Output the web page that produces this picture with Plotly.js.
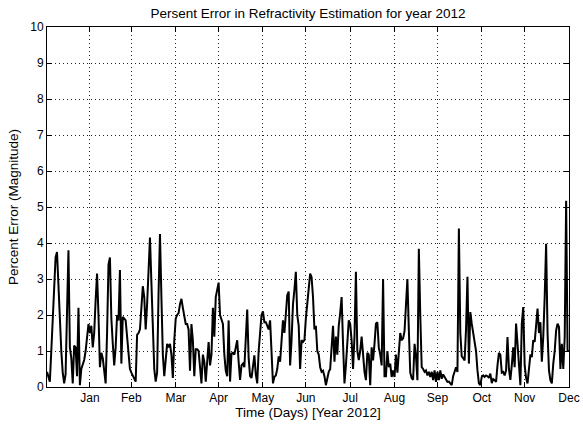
<!DOCTYPE html>
<html>
<head>
<meta charset="utf-8">
<script src="https://cdn.plot.ly/plotly-3.0.1.min.js"></script>
<style>
  html, body { margin: 0; padding: 0; background: #fff; }
  #chart { width: 583px; height: 425px; }
</style>
</head>
<body>
<div id="chart"></div>
<script>
// Daily percent error of the refractivity estimate, day-of-year 1..366 (2012)
const errJanFeb = [
  0.42, 0.3, 0.15, 1.0, 2.0, 3.0, 3.6, 3.75, 2.8, 1.8, 1.0, 0.4, 0.1, 0.35, 1.9, 3.8,
  1.1, 0.8, 0.1, 1.15, 1.1, 0.3, 2.2, 0.05, 0.5, 0.6, 0.75, 1.0, 1.3, 1.75, 1.5,
  1.7, 1.1, 1.5, 2.4, 3.15, 2.0, 0.55, 0.95, 0.8, 0.45, 0.1, 1.5, 3.4, 3.6, 1.9,
  1.2, 0.6, 1.1, 2.0, 1.85, 3.25, 0.65, 1.95, 1.9, 1.85, 1.4, 0.9, 0.5, 0.4
];
const errMarApr = [
  0.3, 0.25, 0.15, 1.45, 1.5, 1.6, 2.4, 2.8, 2.5, 1.6, 2.3, 3.1, 4.15, 2.9, 1.6, 0.5,
  0.15, 0.4, 2.6, 4.25, 2.5, 0.9, 0.3, 0.7, 1.2, 1.1, 1.2, 0.9, 0.25, 1.3,
  1.9, 2.0, 2.05, 2.3, 2.45, 2.2, 1.9, 1.75, 1.75, 1.6, 0.45, 1.75, 1.3, 0.3, 1.05,
  1.05, 1.0, 0.5, 0.1, 0.9, 0.7, 0.15, 0.85, 1.25, 0.6, 0.9, 2.2, 1.4, 2.5, 2.75, 2.9
];
const errMayJun = [
  2.0, 1.9, 1.75, 0.9, 0.45, 0.3, 1.85, 0.15, 0.93, 0.95, 0.9, 1.1, 1.3, 0.7, 0.2,
  0.6, 0.65, 0.55, 1.3, 2.15, 0.8, 0.3, 0.25, 0.5, 0.88, 0.35, 0.1, 1.0, 1.6, 2.0, 2.1,
  1.8, 1.8, 1.68, 1.6, 1.85, 1.0, 0.1, 0.28, 0.32, 0.5, 0.85, 0.7, 1.3, 1.85, 1.5,
  2.2, 2.55, 2.65, 0.6, 1.3, 2.3, 2.7, 3.2, 2.0, 1.7, 0.5, 1.3, 1.25, 1.3, 1.9
];
const errJulAug = [
  2.35, 2.6, 3.15, 3.05, 2.5, 1.6, 1.7, 1.0, 0.9, 0.55, 0.42, 0.45, 0.3, 0.05, 0.28,
  0.42, 0.5, 1.1, 1.7, 0.7, 1.4, 0.9, 1.7, 2.05, 2.5, 1.2, 0.1, 0.6, 1.4, 1.85, 1.75,
  1.3, 0.5, 1.4, 3.2, 1.0, 0.75, 1.0, 1.4, 0.83, 0.42, 0.19, 0.95, 0.9, 0.05, 1.1,
  0.74, 1.2, 1.76, 1.8, 1.1, 0.9, 0.6, 3.0, 0.3, 0.3, 1.0, 0.55, 0.65, 0.28, 0.46, 0.28
];
const errSepOct = [
  0.9, 0.4, 1.0, 1.5, 1.3, 1.35, 1.55, 2.5, 3.0, 1.6, 0.4, 0.25, 0.2, 1.2, 0.85,
  0.19, 3.84, 2.0, 0.55, 0.5, 0.42, 0.46, 0.32, 0.42, 0.28, 0.42, 0.19, 0.46, 0.14, 0.42,
  0.19, 0.46, 0.23, 0.35, 0.28, 0.2, 0.14, 0.15, 0.1, 0.05, 0.3, 0.4, 0.55, 0.42,
  4.4, 1.5, 0.85, 0.8, 0.74, 1.6, 3.06, 0.65, 2.08, 1.76, 1.48, 1.2, 1.0, 0.46, 0.1,
  0.05, 0.28
];
const errNovDec = [
  0.32, 0.28, 0.32, 0.3, 0.25, 0.37, 0.11, 0.22, 0.19, 0.14, 0.6, 0.95, 0.9, 0.4,
  0.42, 0.32, 0.46, 1.39, 0.5, 0.2, 0.6, 1.1, 0.55, 1.76, 1.2, 0.7, 0.05, 1.76, 2.22,
  0.6, 0.25, 0.1, 0.55, 0.9, 0.83, 1.3, 1.25, 1.76, 2.18, 1.5, 1.8, 0.7, 1.4, 2.5,
  3.98, 1.5, 0.46, 0.19, 0.1, 0.65, 1.0, 1.57, 1.76, 1.67, 0.5, 1.2, 0.5, 1.39, 5.17,
  1.0, 1.0
];

const percentError = [].concat(errJanFeb, errMarApr, errMayJun, errJulAug, errSepOct, errNovDec);
const days = percentError.map((_, i) => i + 1);

// Month ticks sit at the last day of each month
const monthTickDays = [31, 60, 91, 121, 152, 182, 213, 244, 274, 305, 335, 366];
const monthLabels = ['Jan', 'Feb', 'Mar', 'Apr', 'May', 'Jun', 'Jul', 'Aug', 'Sep', 'Oct', 'Nov', 'Dec'];
const yTicks = [0, 1, 2, 3, 4, 5, 6, 7, 8, 9, 10];

const fontFamily = '"Liberation Sans", Arial, Helvetica, sans-serif';

const trace = {
  x: days,
  y: percentError,
  type: 'scatter',
  mode: 'lines',
  line: { color: '#000', width: 2 },
  hoverinfo: 'x+y'
};

const axisCommon = {
  showline: true,
  linecolor: '#000',
  linewidth: 1,
  mirror: 'ticks',
  ticks: 'inside',
  ticklen: 5,
  tickcolor: '#000',
  showgrid: true,
  gridcolor: 'rgba(0,0,0,0.85)',
  gridwidth: 1,
  griddash: '1px,3px',
  zeroline: false,
  tickfont: { family: fontFamily, size: 12, color: '#000' }
};

const layout = {
  width: 583,
  height: 425,
  margin: { l: 47, r: 14, t: 27, b: 38 },
  paper_bgcolor: '#fff',
  plot_bgcolor: '#fff',
  showlegend: false,
  font: { family: fontFamily, size: 12, color: '#000' },
  title: {
    text: 'Persent Error in Refractivity Estimation for year 2012',
    font: { family: fontFamily, size: 13.5, color: '#000' },
    x: 0.5 * (47 + 569) / 583,
    xanchor: 'center',
    y: 1 - 13 / 425,
    yanchor: 'middle'
  },
  xaxis: Object.assign({}, axisCommon, {
    range: [1, 366],
    tickmode: 'array',
    tickvals: monthTickDays,
    ticktext: monthLabels,
    title: { text: 'Time (Days) [Year 2012]', font: { family: fontFamily, size: 13.5, color: '#000' }, standoff: 2 }
  }),
  yaxis: Object.assign({}, axisCommon, {
    range: [0, 10],
    tickmode: 'array',
    tickvals: yTicks,
    title: { text: 'Percent Error (Magnitude)', font: { family: fontFamily, size: 13.5, color: '#000' }, standoff: 8 }
  })
};

Plotly.newPlot('chart', [trace], layout, { displayModeBar: false, staticPlot: true });
</script>
</body>
</html>
